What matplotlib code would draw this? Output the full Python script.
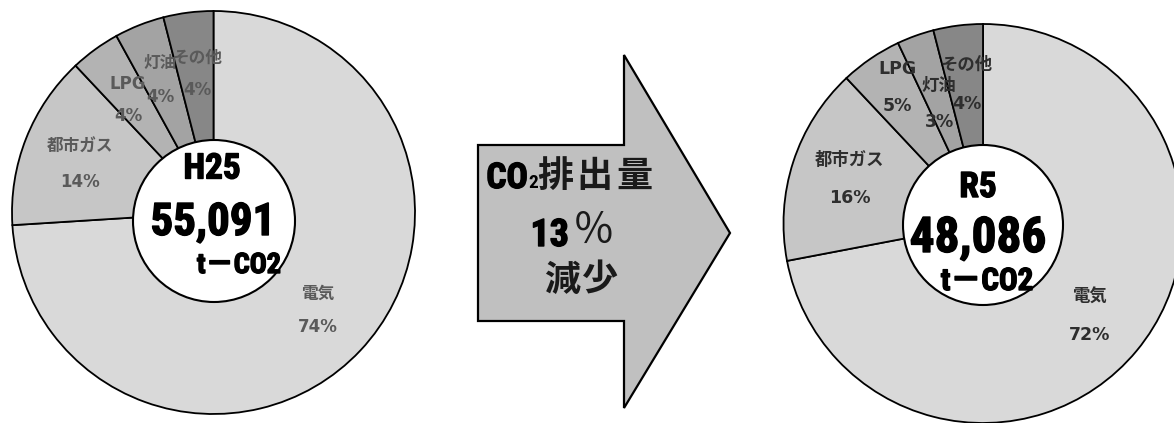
import matplotlib
matplotlib.use("Agg")
import matplotlib.pyplot as plt
from matplotlib.patches import Polygon, Circle
from matplotlib import font_manager
import matplotlib.patheffects as pe

# ---- data -------------------------------------------------------------
categories = ["電気", "都市ガス", "LPG", "灯油", "その他"]
share_h25 = [74, 14, 4, 4, 4]          # % of total, FY H25
share_r5 = [72, 16, 5, 3, 4]           # % of total, FY R5
years = ["H25", "R5"]
totals = [55091, 48086]                # t-CO2
unit = "t－CO2"

reduction = round(100 * (1 - totals[1] / totals[0]))

# ---- canvas in pixel units (y measured from the top) -------------------
W, H = 1174, 423
fig = plt.figure(figsize=(W / 100, H / 100), dpi=100)
ax = fig.add_axes([0, 0, 1, 1])


def py(y):
    return H - y


# heavy, fairly narrow face for the big captions
names = {f.name for f in font_manager.fontManager.ttflist}
CAP_FAMILY = None
for cand in ["Liberation Sans Narrow", "Roboto Condensed", "Roboto",
             "Liberation Sans"]:
    if cand in names:
        CAP_FAMILY = [cand, "Noto Sans CJK JP"]
        break
if CAP_FAMILY is None:
    CAP_FAMILY = ["DejaVu Sans", "Noto Sans CJK JP"]
CAP = dict(family=CAP_FAMILY, fontweight=900)

JP = ["Noto Sans CJK JP", "DejaVu Sans"]
LABEL = ["DejaVu Sans", "Noto Sans CJK JP"]
heavy = [pe.withStroke(linewidth=1.0, foreground="black")]

slice_colors = ["#d9d9d9", "#c6c6c6", "#b3b3b3", "#a3a3a3", "#878787"]

# label anchors: (x, name y, percent y)
label_pos_h25 = [(318, 294, 327), (80, 147, 182), (128, 84, 116),
                 (160, 63, 97), (197, 58, 90)]
label_pos_r5 = [(1090, 297, 335), (850, 160, 198), (897, 69, 106),
                (939, 86, 122), (967, 65, 104)]


def draw_pie(values, center, radius, hole_c, hole_r, label_pos, lcolor, lsize):
    ax.pie(values, colors=slice_colors, startangle=90, counterclock=False,
           center=(center[0], py(center[1])), radius=radius,
           wedgeprops=dict(edgecolor="black", linewidth=1.3))
    for name, v, (lx, ny, vy) in zip(categories, values, label_pos):
        fam = JP if any(ord(c) > 127 for c in name) else LABEL
        ax.text(lx, py(ny), name, ha="center", va="center", family=fam,
                fontsize=lsize, fontweight="bold", color=lcolor, zorder=5)
        ax.text(lx, py(vy), f"{v}%", ha="center", va="center", family=LABEL,
                fontsize=lsize, fontweight="bold", color=lcolor, zorder=5)
    ax.add_patch(Circle((hole_c[0], py(hole_c[1])), hole_r, facecolor="white",
                        edgecolor="black", linewidth=1.5, zorder=6))


draw_pie(share_h25, (213.5, 212.5), 201.5, (214, 221), 81,
         label_pos_h25, "#5a5a5a", 12)
draw_pie(share_r5, (983, 223.5), 199.5, (983, 225), 80,
         label_pos_r5, "#2e2e2e", 12.5)

renderer = fig.canvas.get_renderer()


def caption(x, y, s, width_px, cap_px, ha="center"):
    """Bold caption sized by cap height, shrunk if it runs far too wide."""
    size = cap_px / 0.711 * 72 / 100
    t = ax.text(x, py(y), s, ha=ha, va="baseline", fontsize=size,
                color="black", path_effects=heavy, zorder=7, **CAP)
    w = t.get_window_extent(renderer).width
    limit = width_px * 1.15
    if w > limit:
        t.set_fontsize(size * limit / w)
    return t


# centre captions
caption(212, 178.5, years[0], 62, 25)
caption(213, 235, f"{totals[0]:,}", 109, 32)
caption(239, 273, unit, 82, 20)

caption(978, 197, years[1], 43, 25)
caption(978, 252, f"{totals[1]:,}", 120, 35)
caption(987, 290, unit, 89, 22)

# arrow
arrow_px = [(478, 145), (624, 145), (624, 55), (730, 233),
            (624, 408), (624, 321), (478, 321)]
ax.add_patch(Polygon([(x, py(y)) for x, y in arrow_px], closed=True,
                     facecolor="#c0c0c0", edgecolor="black", linewidth=1.6,
                     joinstyle="miter", zorder=3))

caption(528, 188, "CO", 36, 26, ha="right")
ax.text(528, py(188), "2", ha="left", va="baseline", fontsize=14,
        color="black", zorder=7, **CAP)
for ch, cx in zip("排出量", [555, 594, 634]):
    ax.text(cx, py(176), ch, ha="center", va="center", family=JP, fontsize=26,
            fontweight="bold", color="#1a1a1a", zorder=7)
caption(569, 246, f"{reduction}", 36, 27, ha="right")
ax.text(594, py(231), "％", ha="center", va="center", family=JP, fontsize=30,
        fontweight="normal", color="#1a1a1a", zorder=7)
for ch, cx in zip("減少", [562, 600]):
    ax.text(cx, py(280), ch, ha="center", va="center", family=JP, fontsize=26,
            fontweight="bold", color="#1a1a1a", zorder=7)

ax.set_xlim(0, W)
ax.set_ylim(0, H)
ax.set_aspect("equal")
ax.axis("off")

fig.savefig("out.png", dpi=100, facecolor="white")
